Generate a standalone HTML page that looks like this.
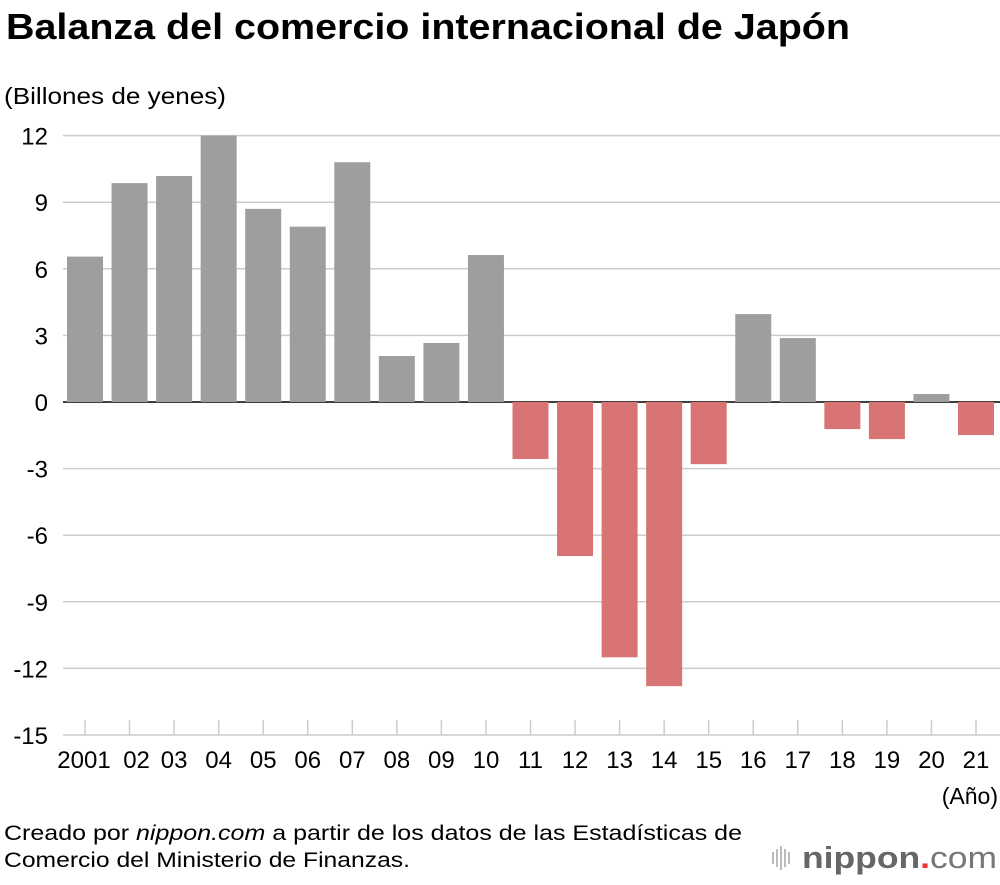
<!DOCTYPE html>
<html><head><meta charset="utf-8"><style>
body{margin:0;background:#fff;width:1000px;height:880px;overflow:hidden;font-family:"Liberation Sans",Arial,sans-serif;}
</style></head><body>
<svg width="1000" height="880" style="font-family:'Liberation Sans',Arial,sans-serif">
<text x="6" y="39" font-size="36" font-weight="bold" fill="#000" textLength="844" lengthAdjust="spacingAndGlyphs">Balanza del comercio internacional de Japón</text>
<text x="4" y="104" font-size="23" fill="#000" textLength="222" lengthAdjust="spacingAndGlyphs">(Billones de yenes)</text>
<g id="grid"></g><g id="bars"></g><g id="xticks"></g>
<text x="998" y="804" font-size="23" text-anchor="end">(Año)</text>
<text x="4" y="840" font-size="21" textLength="738" lengthAdjust="spacingAndGlyphs">Creado por <tspan font-style="italic">nippon.com</tspan> a partir de los datos de las Estadísticas de</text>
<text x="4" y="867" font-size="21" textLength="406" lengthAdjust="spacingAndGlyphs">Comercio del Ministerio de Finanzas.</text>
<g>
<g stroke="#bbb" stroke-width="2"><line x1="773" y1="852" x2="773" y2="864"/><line x1="777" y1="849" x2="777" y2="867"/><line x1="781" y1="846" x2="781" y2="870"/><line x1="785" y1="849" x2="785" y2="867"/><line x1="789" y1="852" x2="789" y2="864"/></g>
<text x="802" y="868" font-size="31" font-weight="bold" fill="#666" textLength="195" lengthAdjust="spacingAndGlyphs">nippon<tspan fill="#e33">.</tspan><tspan font-weight="normal" fill="#777">com</tspan></text>
</g>
</svg>
<script>
const years=["2001","02","03","04","05","06","07","08","09","10","11","12","13","14","15","16","17","18","19","20","21"];
const balance=[6.55,9.86,10.18,12.0,8.7,7.9,10.8,2.07,2.66,6.62,-2.57,-6.94,-11.5,-12.8,-2.8,3.96,2.88,-1.22,-1.67,0.36,-1.49];
const yTicks=[12,9,6,3,0,-3,-6,-9,-12,-15];
const NS="http://www.w3.org/2000/svg";
const y=v=>402-v*22.2;
const x=i=>85+i*44.55;
function mk(t,a,p){const e=document.createElementNS(NS,t);for(const k in a)e.setAttribute(k,a[k]);p.appendChild(e);return e;}
const grid=document.getElementById('grid'),bars=document.getElementById('bars'),xt=document.getElementById('xticks');
yTicks.forEach(v=>{
 const l=mk('line',{x1:63,x2:1000,y1:y(v),y2:y(v),stroke:v===0?'#000':'#ccc','stroke-width':1.5},grid);
 
 
 const t=mk('text',{x:48,y:y(v)+9,'font-size':24,'text-anchor':'end'},grid);
 t.textContent=v;
 
 
});
balance.forEach((v,i)=>{
 const r=mk('rect',{x:x(i)-18,width:36,y:Math.min(y(v),y(0)),height:Math.abs(y(v)-y(0)),fill:v>=0?'#9e9e9e':'#d97474'},bars);
 
 
 const tk=mk('line',{x1:x(i),x2:x(i),y1:720,y2:735,stroke:'#ccc','stroke-width':1.5},xt);
 
 
 const t=mk('text',{x:i===0?x(i)-1:x(i)+(i===1?7:0),y:768,'font-size':24,'text-anchor':'middle'},xt);
 t.textContent=years[i];
 
 
});
</script>
</body></html>
